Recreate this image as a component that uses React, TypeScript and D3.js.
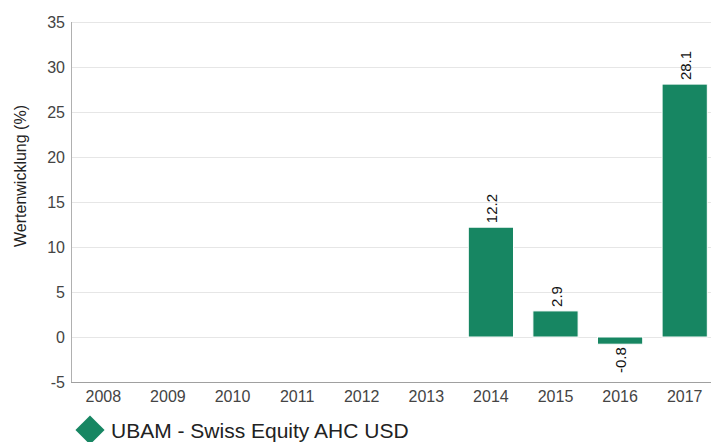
import { useEffect, useRef } from 'react';
import * as d3 from 'd3';

const years = ['2008', '2009', '2010', '2011', '2012', '2013', '2014', '2015', '2016', '2017'];
const returns: (number | null)[] = [null, null, null, null, null, null, 12.2, 2.9, -0.8, 28.1];
const yTicks = [-5, 0, 5, 10, 15, 20, 25, 30, 35];
const seriesName = 'UBAM - Swiss Equity AHC USD';
const yLabel = 'Wertenwicklung (%)';

export default function App() {
  const svgRef = useRef<SVGSVGElement>(null);

  useEffect(() => {
    if (!svgRef.current) return;
    const svg = d3.select(svgRef.current);
    svg.selectAll('*').remove();

    const width = 711;
    const height = 442;
    const margin = { top: 22, right: -6, bottom: 60, left: 71 };
    const font = 'Liberation Sans, Arial, sans-serif';
    const barColor = '#178662';

    const x = d3
      .scaleBand()
      .domain(years)
      .range([margin.left, width - margin.right])
      .paddingInner(0.3)
      .paddingOuter(0.15);

    const y = d3
      .scaleLinear()
      .domain([-5, 35])
      .range([height - margin.bottom, margin.top]);

    svg.attr('width', width).attr('height', height);

    // grid
    svg
      .append('g')
      .selectAll('line')
      .data(yTicks.filter((t) => t !== -5))
      .enter()
      .append('line')
      .attr('x1', margin.left)
      .attr('x2', width)
      .attr('y1', (d) => Math.round(y(d)) + 0.5)
      .attr('y2', (d) => Math.round(y(d)) + 0.5)
      .attr('stroke', '#e6e6e6')
      .attr('stroke-width', 1);

    // axes lines
    svg
      .append('line')
      .attr('x1', margin.left + 0.5)
      .attr('x2', margin.left + 0.5)
      .attr('y1', y(35))
      .attr('y2', y(-5))
      .attr('stroke', '#b0b0b0');
    svg
      .append('line')
      .attr('x1', margin.left)
      .attr('x2', width)
      .attr('y1', Math.round(y(-5)) + 0.5)
      .attr('y2', Math.round(y(-5)) + 0.5)
      .attr('stroke', '#a0a0a0');

    // y tick labels
    svg
      .append('g')
      .selectAll('text')
      .data(yTicks)
      .enter()
      .append('text')
      .attr('x', margin.left - 6)
      .attr('y', (d) => y(d) + 5.5)
      .attr('text-anchor', 'end')
      .attr('font-family', font)
      .attr('font-size', 16)
      .attr('fill', '#444')
      .text((d) => String(d));

    // x tick labels
    svg
      .append('g')
      .selectAll('text')
      .data(years)
      .enter()
      .append('text')
      .attr('x', (d) => (x(d) ?? 0) + x.bandwidth() / 2)
      .attr('y', y(-5) + 20)
      .attr('text-anchor', 'middle')
      .attr('font-family', font)
      .attr('font-size', 16)
      .attr('fill', '#444')
      .text((d) => d);

    // y label
    svg
      .append('text')
      .attr('transform', `translate(26,176) rotate(-90)`)
      .attr('text-anchor', 'middle')
      .attr('font-family', font)
      .attr('font-size', 16)
      .attr('fill', '#222')
      .text(yLabel);

    const data = years
      .map((yr, i) => ({ year: yr, value: returns[i] }))
      .filter((d) => d.value !== null) as { year: string; value: number }[];

    // bars
    svg
      .append('g')
      .selectAll('rect')
      .data(data)
      .enter()
      .append('rect')
      .attr('x', (d) => x(d.year) ?? 0)
      .attr('width', x.bandwidth())
      .attr('y', (d) => y(Math.max(0, d.value)))
      .attr('height', (d) => Math.abs(y(d.value) - y(0)))
      .attr('fill', barColor)
      .attr('stroke', '#ffffff')
      .attr('stroke-width', 1);

    // data labels
    svg
      .append('g')
      .selectAll('text')
      .data(data)
      .enter()
      .append('text')
      .attr('transform', (d) => {
        const cx = (x(d.year) ?? 0) + x.bandwidth() / 2 + 6;
        const cy = d.value >= 0 ? y(d.value) - 4 : y(d.value) + 3;
        return `translate(${cx},${cy}) rotate(-90)`;
      })
      .attr('text-anchor', (d) => (d.value >= 0 ? 'start' : 'end'))
      .attr('font-family', font)
      .attr('font-size', 15)
      .attr('fill', '#111')
      .text((d) => d.value.toFixed(1));

    // legend
    const lg = svg.append('g').attr('transform', 'translate(90,430)');
    lg.append('path')
      .attr('d', d3.symbol(d3.symbolDiamond2, 540)())
      .attr('fill', barColor);
    lg.append('text')
      .attr('x', 21)
      .attr('y', 8)
      .attr('font-family', font)
      .attr('font-size', 21)
      .attr('fill', '#222')
      .text(seriesName);
  }, []);

  return (
    <div style={{ position: 'fixed', left: 0, top: 0, background: '#fff' }}>
      <svg ref={svgRef} style={{ display: 'block' }} />
    </div>
  );
}
